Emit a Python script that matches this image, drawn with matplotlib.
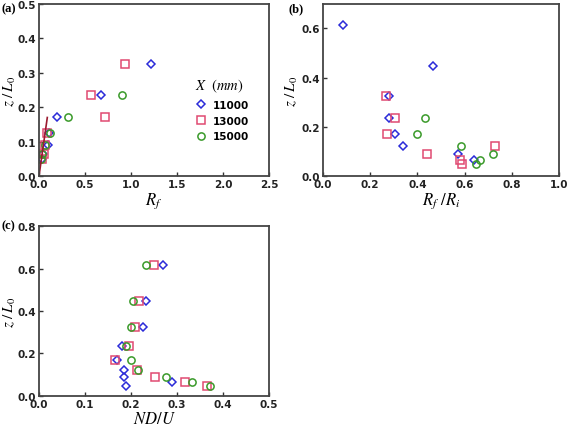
import matplotlib
matplotlib.use("Agg")
import matplotlib.pyplot as plt

plt.rcParams['mathtext.fontset'] = 'stix'

labels = ['11000', '13000', '15000']
colors = ['#2b2bd9', '#e04a72', '#3a9a2a']
markers = ['D', 's', 'o']
msizes = [3.6, 5.2, 5.2]

# Panel (a): R_f vs z/L0
a_x = [[1.22, 0.67, 0.20, 0.11, 0.10, 0.04, 0.03],
       [0.93, 0.56, 0.72, 0.09, 0.07, 0.05, 0.03],
       [0.90, 0.32, 0.12, 0.06, 0.03, 0.02]]
a_z = [[0.325, 0.235, 0.17, 0.125, 0.09, 0.065, 0.048],
       [0.325, 0.235, 0.17, 0.125, 0.09, 0.065, 0.048],
       [0.235, 0.17, 0.125, 0.09, 0.065, 0.048]]
line_x = [0.0, 0.09]
line_z = [0.0, 0.17]

# Panel (b): R_f/R_i vs z/L0
b_x = [[0.085, 0.465, 0.28, 0.28, 0.305, 0.34, 0.57, 0.64],
       [0.265, 0.305, 0.27, 0.73, 0.44, 0.58, 0.59],
       [0.43, 0.40, 0.585, 0.72, 0.665, 0.65]]
b_z = [[0.615, 0.448, 0.325, 0.235, 0.17, 0.123, 0.09, 0.065],
       [0.325, 0.235, 0.17, 0.123, 0.09, 0.065, 0.048],
       [0.235, 0.17, 0.123, 0.09, 0.065, 0.048]]

# Panel (c): ND/U vs z/L0
c_x = [[0.270, 0.232, 0.226, 0.180, 0.170, 0.185, 0.184, 0.288, 0.190],
       [0.250, 0.217, 0.208, 0.196, 0.166, 0.214, 0.253, 0.318, 0.365],
       [0.233, 0.205, 0.199, 0.190, 0.200, 0.216, 0.275, 0.333, 0.372]]
c_z = [[0.615, 0.448, 0.325, 0.235, 0.17, 0.123, 0.09, 0.065, 0.048]] * 3

fig = plt.figure(figsize=(5.68, 4.27), dpi=100)
axa = fig.add_axes([0.0687, 0.5855, 0.405, 0.403])
axb = fig.add_axes([0.5687, 0.5855, 0.4155, 0.403])
axc = fig.add_axes([0.0687, 0.0703, 0.405, 0.398])

tickfont = dict(family='DejaVu Sans', weight='bold', size=7.5)

def style(ax, xlim, ylim, xticks, yticks, fmt):
    ax.set_xlim(*xlim)
    ax.set_ylim(*ylim)
    ax.set_xticks(xticks)
    ax.set_yticks(yticks)
    ax.set_xticklabels([fmt.format(v) for v in xticks], fontdict=tickfont)
    ax.set_yticklabels([fmt.format(v) for v in yticks], fontdict=tickfont)
    ax.tick_params(direction='in', length=3, width=1, colors='#333333', pad=2)
    for lab in ax.get_xticklabels() + ax.get_yticklabels():
        lab.set_color('#222222')
    for s in ax.spines.values():
        s.set_linewidth(1.3)
        s.set_color('#444444')

def scatter(ax, xs, zs, with_label=False):
    for i in range(3):
        ax.plot(xs[i], zs[i], linestyle='none', marker=markers[i], ms=msizes[i],
                mfc='none', mec=colors[i], mew=1.1,
                label=labels[i] if with_label else None)

scatter(axa, a_x, a_z, True)
axa.plot(line_x, line_z, color='#9b1b30', lw=1.2)
style(axa, (0, 2.5), (0, 0.5), [0, 0.5, 1.0, 1.5, 2.0, 2.5], [0, 0.1, 0.2, 0.3, 0.4, 0.5], '{:.1f}')
leg = axa.legend(loc='upper left', bbox_to_anchor=(0.66, 0.6), frameon=False,
                 prop=dict(family='DejaVu Sans', weight='bold', size=7.5),
                 handletextpad=0.5, handlelength=1.2, labelspacing=0.55, borderaxespad=0,
                 title=r'$X\ \ (mm)$', title_fontsize=10.5)
leg._legend_box.align = 'left'

scatter(axb, b_x, b_z)
style(axb, (0, 1.0), (0, 0.7), [0, 0.2, 0.4, 0.6, 0.8, 1.0], [0, 0.2, 0.4, 0.6], '{:.1f}')

scatter(axc, c_x, c_z)
style(axc, (0, 0.5), (0, 0.8), [0, 0.1, 0.2, 0.3, 0.4, 0.5], [0, 0.2, 0.4, 0.6, 0.8], '{:.1f}')

axa.set_xlabel(r'$R_f$', fontsize=12, labelpad=1)
axb.set_xlabel(r'$R_f\ /R_i$', fontsize=12, labelpad=1)
axc.set_xlabel(r'$ND/U$', fontsize=12, labelpad=0)
for ax in (axa, axb, axc):
    ax.set_ylabel(r'$z\ /\,L_0$', fontsize=11)
axa.yaxis.set_label_coords(-0.09, 0.5)
axb.yaxis.set_label_coords(-0.097, 0.5)
axc.yaxis.set_label_coords(-0.09, 0.5)

panelfont = dict(family='Liberation Serif', weight='bold', size=9)
fig.text(0.002, 0.978, '(a)', ha='left', va='center', **panelfont)
fig.text(0.508, 0.978, '(b)', ha='left', va='center', **panelfont)
fig.text(0.002, 0.47, '(c)', ha='left', va='center', **panelfont)

fig.savefig('out.png', dpi=100)
